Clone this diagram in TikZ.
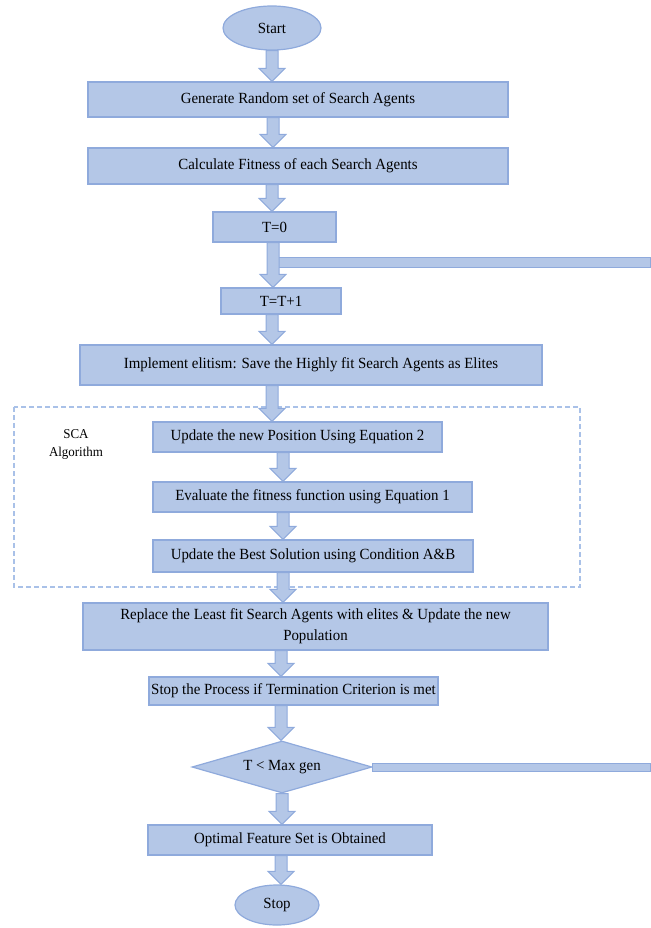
\documentclass[tikz,border=0pt]{standalone}
\usepackage{fontspec}
\setmainfont[FakeStretch=0.96]{Liberation Serif}
\usetikzlibrary{shapes,calc}
\definecolor{boxfill}{HTML}{B4C7E7}
\definecolor{boxline}{HTML}{8FAADC}
\definecolor{dashline}{HTML}{A9C1E8}
\tikzstyle{block} = [rectangle, draw=boxline, fill=boxfill, line width=1.2pt,
    text centered, inner sep=0pt, font=\fontsize{15.5}{21}\selectfont]
\tikzstyle{term} = [ellipse, draw=boxline, fill=boxfill, line width=1.2pt,
    inner sep=0pt, font=\fontsize{15.5}{18}\selectfont]
\tikzstyle{decision} = [diamond, draw=boxline, fill=boxfill, line width=1.2pt,
    shape aspect=3.46, inner sep=0pt, font=\fontsize{15.5}{18}\selectfont]
\tikzstyle{arrowbody} = [draw=boxline, fill=boxfill, line width=1pt]
\tikzstyle{bar} = [draw=boxline, fill=boxfill, line width=1pt]
% block arrow: x position, from node, to node
\newcommand{\blockarrow}[3]{%
  \path [arrowbody] let \p1=(#2.south), \p2=(#3.north) in
    (#1pt-6pt,\y1) -- (#1pt+6pt,\y1) -- (#1pt+6pt,\y2+13pt) -- (#1pt+13pt,\y2+13pt)
    -- (#1pt,\y2) -- (#1pt-13pt,\y2+13pt) -- (#1pt-6pt,\y2+13pt) -- cycle;}

\begin{document}
\begin{tikzpicture}[x=1pt, y=-1pt]
    \useasboundingbox (0,0) rectangle (650,928);
    % SCA group
    \draw [dashline, dashed, line width=1.2pt, dash pattern=on 5pt off 3pt]
        (14,407) rectangle (580,587);
    \node [font=\fontsize{13.5}{18}\selectfont, align=center] (sca) at (76,444) {SCA\\Algorithm};

    \node [term, minimum width=98, minimum height=44] (start) at (272,28) {Start};
    \node [block, minimum width=420, minimum height=35] (gen) at (298,99.5) {Generate Random set of Search Agents};
    \node [block, minimum width=420, minimum height=36] (fit) at (298,166) {Calculate Fitness of each Search Agents};
    \node [block, minimum width=123, minimum height=30] (tzero) at (274.5,227) {T=0};
    \node [block, minimum width=120, minimum height=26] (tinc) at (281,301) {T=T+1};
    \node [block, minimum width=462, minimum height=40] (elite) at (311,365) {Implement elitism: Save the Highly fit Search Agents as Elites};
    \node [block, minimum width=289, minimum height=30] (pos) at (297.5,437) {Update the new Position Using Equation 2};
    \node [block, minimum width=319, minimum height=30] (eval) at (312.5,497) {Evaluate the fitness function using Equation 1};
    \node [block, minimum width=320, minimum height=32] (best) at (313,556) {Update the Best Solution using Condition A\&B};
    \node [block, minimum width=465, minimum height=47, align=center] (replace) at (315.5,626.5)
        {Replace the Least fit Search Agents with elites \& Update the new\\Population};
    \node [block, minimum width=289, minimum height=28] (stopif) at (293.5,691) {Stop the Process if Termination Criterion is met};
    \node [decision, minimum width=180, minimum height=52] (cond) at (282,767) {T {\textless} Max gen};
    \node [block, minimum width=284, minimum height=30] (optimal) at (290,840) {Optimal Feature Set is Obtained};
    \node [term, minimum width=84, minimum height=40] (stop) at (277,905) {Stop};

    % loop back bars
    \coordinate (loopa) at (650,262);
    \coordinate (loopb) at (650,767);
    \path [bar] ([xshift=-2pt,yshift=-15pt]tzero.south) rectangle ([yshift=-5pt]loopa);
    \path [bar] ([yshift=4pt]cond.east) rectangle ([yshift=-4pt]loopb);

    \blockarrow{272}{start}{gen}
    \blockarrow{273}{gen}{fit}
    \blockarrow{272}{fit}{tzero}
    \blockarrow{273}{tzero}{tinc}
    \blockarrow{272}{tinc}{elite}
    \blockarrow{272}{elite}{pos}
    \blockarrow{283}{pos}{eval}
    \blockarrow{283}{eval}{best}
    \blockarrow{283}{best}{replace}
    \blockarrow{281}{replace}{stopif}
    \blockarrow{281}{stopif}{cond}
    \blockarrow{282}{cond}{optimal}
    \blockarrow{281}{optimal}{stop}
\end{tikzpicture}
\end{document}
